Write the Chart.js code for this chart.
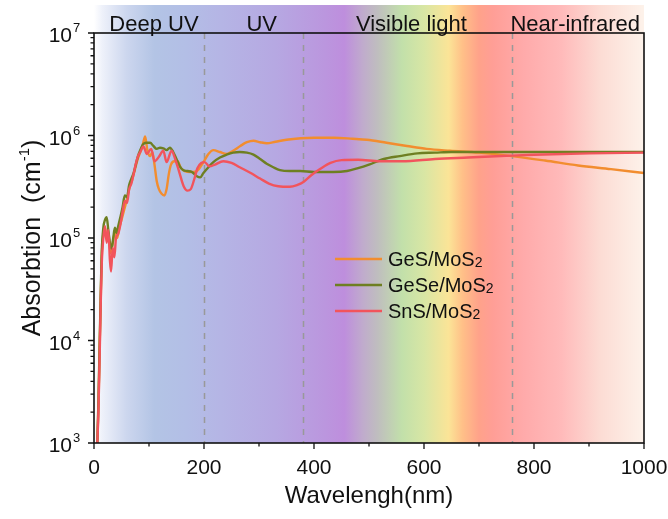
<!DOCTYPE html>
<html>
<head>
<meta charset="utf-8">
<title>Absorption spectra</title>
<script src="https://cdn.jsdelivr.net/npm/chart.js@4.4.1/dist/chart.umd.min.js"></script>
<style>
  html, body { margin: 0; padding: 0; background: #fff; }
  #wrap { width: 668px; height: 519px; }
</style>
</head>
<body>
<div id="wrap"><canvas id="absChart" width="668" height="519"></canvas></div>
<script>
// wavelength (nm) and absorption (cm-1)
const wlGeS = [6, 8, 10, 12, 14, 17, 20, 23, 26, 30, 34, 38, 42, 46, 50, 55, 60, 65, 70, 75, 80, 85, 89, 93, 97, 102, 106, 110, 114, 118, 123, 128, 132, 136, 140, 146, 152, 158, 165, 175, 187, 199, 208, 217, 229, 241, 253, 266, 278, 290, 302, 314, 330, 350, 376, 400, 436, 470, 496, 532, 569, 605, 647, 700, 760, 820, 880, 940, 1000];
const absGeS = [1.0e3, 2.2e3, 7.1e3, 2.2e4, 6.3e4, 1.12e5, 1.26e5, 1.0e5, 1.15e5, 7.1e4, 8.9e4, 1.12e5, 1.0e5, 1.26e5, 1.5e5, 1.9e5, 2.4e5, 3.16e5, 3.8e5, 4.8e5, 6.0e5, 7.1e5, 8.3e5, 9.8e5, 7.2e5, 6.3e5, 6.9e5, 5.2e5, 3.6e5, 3.0e5, 2.7e5, 2.6e5, 3.0e5, 4.2e5, 5.2e5, 5.6e5, 5.6e5, 4.8e5, 4.5e5, 4.4e5, 4.5e5, 5.5e5, 6.6e5, 7.2e5, 6.9e5, 6.6e5, 7.1e5, 7.9e5, 8.6e5, 8.9e5, 8.6e5, 8.4e5, 8.7e5, 9.1e5, 9.4e5, 9.5e5, 9.5e5, 9.3e5, 9.1e5, 8.5e5, 7.9e5, 7.4e5, 7.1e5, 6.8e5, 6.3e5, 5.7e5, 5.1e5, 4.7e5, 4.3e5];

const wlGeSe = [6, 8, 10, 12, 14, 17, 20, 23, 26, 29, 32, 35, 38, 41, 44, 48, 52, 56, 60, 64, 68, 72, 76, 80, 84, 90, 96, 102, 108, 114, 120, 126, 132, 138, 144, 150, 156, 162, 170, 178, 187, 193, 199, 208, 217, 229, 241, 253, 265, 278, 290, 302, 314, 326, 338, 356, 375, 400, 435, 460, 480, 500, 527, 556, 588, 620, 650, 750, 850, 1000];
const absGeSe = [1.0e3, 2.5e3, 7.9e3, 2.5e4, 7.1e4, 1.26e5, 1.5e5, 1.6e5, 1.2e5, 8.9e4, 7.9e4, 1.0e5, 1.26e5, 1.12e5, 1.3e5, 1.6e5, 2.0e5, 2.6e5, 2.5e5, 3.3e5, 3.8e5, 4.3e5, 5.2e5, 6.3e5, 7.2e5, 8.3e5, 8.5e5, 8.5e5, 7.9e5, 7.4e5, 7.6e5, 7.5e5, 7.2e5, 7.6e5, 6.9e5, 5.9e5, 5.0e5, 4.6e5, 4.5e5, 4.4e5, 4.0e5, 3.9e5, 4.3e5, 4.9e5, 5.5e5, 6.1e5, 6.5e5, 6.8e5, 6.9e5, 6.8e5, 6.5e5, 5.9e5, 5.3e5, 4.9e5, 4.6e5, 4.5e5, 4.5e5, 4.4e5, 4.4e5, 4.5e5, 4.8e5, 5.2e5, 5.9e5, 6.3e5, 6.7e5, 6.8e5, 6.9e5, 6.9e5, 6.9e5, 6.9e5];

const wlSnS = [6, 8, 10, 12, 14, 17, 20, 23, 26, 29, 31, 34, 37, 40, 44, 48, 52, 56, 60, 64, 68, 72, 76, 80, 84, 90, 96, 104, 110, 118, 126, 132, 141, 148, 155, 163, 170, 176, 182, 188, 195, 201, 210, 220, 235, 250, 265, 285, 302, 318, 335, 356, 370, 380, 395, 411, 430, 450, 480, 520, 560, 620, 680, 740, 800, 900, 1000];
const absSnS = [1.0e3, 2.0e3, 6.0e3, 2.0e4, 5.5e4, 1.0e5, 1.3e5, 9.0e4, 1.2e5, 6.0e4, 4.7e4, 8.0e4, 6.5e4, 1.0e5, 1.1e5, 1.35e5, 1.8e5, 2.3e5, 2.2e5, 3.0e5, 3.4e5, 4.2e5, 5.3e5, 6.3e5, 6.9e5, 7.8e5, 6.6e5, 7.4e5, 5.6e5, 6.2e5, 7.1e5, 5.5e5, 7.1e5, 5.8e5, 4.4e5, 3.2e5, 2.9e5, 3.0e5, 3.7e5, 4.8e5, 5.4e5, 5.5e5, 5.0e5, 5.2e5, 5.6e5, 5.4e5, 4.9e5, 4.3e5, 3.8e5, 3.4e5, 3.2e5, 3.16e5, 3.3e5, 3.5e5, 4.1e5, 4.7e5, 5.4e5, 5.75e5, 5.8e5, 5.6e5, 5.6e5, 5.9e5, 6.1e5, 6.3e5, 6.5e5, 6.7e5, 6.8e5];

const seriesNames = ["GeS/MoS", "GeSe/MoS", "SnS/MoS"];
const seriesColors = ["#F28D2F", "#6E7F22", "#F2545C"];

const xTicks = [0, 200, 400, 600, 800, 1000];
const xMinorTicks = [100, 300, 500, 700, 900];
const yDecades = [3, 4, 5, 6, 7];

const regionNames = ["Deep UV", "UV", "Visible light", "Near-infrared"];
const regionCenters = [109, 305, 577, 875];
const regionBounds = [200, 380, 760];

// spectrum background: wavelength stop -> colour
const specStops = [0, 15, 60, 110, 170, 230, 330, 420, 455, 490, 515, 560, 600, 645, 670, 700, 725, 780, 850, 920, 1000];
const specColors = ["#FFFFFF", "#EEF1FA", "#CCD6EE", "#B3C4E5", "#B3BEE6", "#B5B5E5", "#B6A8E2", "#BB96DE", "#BE8EDD", "#C0ACCC", "#BFBDBF", "#C2E0AA", "#D8E6A4", "#FBE497", "#FFC088", "#FFA28A", "#FF9E96", "#FFAAAA", "#FFBABA", "#FCDCD4", "#FDF2EA"];

function toPoints(xs, ys) {
  return xs.map((x, i) => ({ x: x, y: ys[i] }));
}

const FONT = "'Liberation Sans', Arial, sans-serif";

document.addEventListener("DOMContentLoaded", function () {
  const ctxEl = document.getElementById("absChart");

  const decorPlugin = {
    id: "decor",
    beforeDraw(chart) {
      const ctx = chart.ctx;
      const xs = chart.scales.x;
      const area = chart.chartArea;
      ctx.save();
      ctx.fillStyle = "#fff";
      ctx.fillRect(0, 0, chart.width, chart.height);

      const x0 = xs.getPixelForValue(0);
      const x1 = xs.getPixelForValue(1000);
      const grad = ctx.createLinearGradient(x0, 0, x1, 0);
      for (let i = 0; i < specStops.length; i++) {
        grad.addColorStop(specStops[i] / 1000, specColors[i]);
      }
      ctx.fillStyle = grad;
      ctx.fillRect(x0, 5, x1 - x0, area.bottom - 5);

      // region boundaries
      ctx.strokeStyle = "#999";
      ctx.lineWidth = 1.5;
      ctx.setLineDash([6, 6]);
      regionBounds.forEach((b) => {
        const px = Math.round(xs.getPixelForValue(b)) + 0.5;
        ctx.beginPath();
        ctx.moveTo(px, area.top);
        ctx.lineTo(px, area.bottom);
        ctx.stroke();
      });
      ctx.setLineDash([]);

      // region labels
      ctx.fillStyle = "#111";
      ctx.font = "22px " + FONT;
      ctx.textAlign = "center";
      ctx.textBaseline = "alphabetic";
      regionNames.forEach((name, i) => {
        ctx.fillText(name, xs.getPixelForValue(regionCenters[i]), 31);
      });
      ctx.restore();
    },
    afterDraw(chart) {
      const ctx = chart.ctx;
      const xs = chart.scales.x;
      const ys = chart.scales.y;
      const area = chart.chartArea;
      ctx.save();

      // frame
      ctx.strokeStyle = "#111";
      ctx.lineWidth = 1.6;
      ctx.strokeRect(area.left, area.top, area.right - area.left, area.bottom - area.top);

      // x ticks
      ctx.lineWidth = 1.3;
      ctx.beginPath();
      xTicks.forEach((v) => {
        const px = xs.getPixelForValue(v);
        ctx.moveTo(px, area.bottom);
        ctx.lineTo(px, area.bottom + 6);
      });
      xMinorTicks.forEach((v) => {
        const px = xs.getPixelForValue(v);
        ctx.moveTo(px, area.bottom);
        ctx.lineTo(px, area.bottom + 3.5);
      });
      // y ticks (decades + minors)
      yDecades.forEach((d, k) => {
        const py = ys.getPixelForValue(Math.pow(10, d));
        ctx.moveTo(area.left, py);
        ctx.lineTo(area.left - 6, py);
        if (k < yDecades.length - 1) {
          for (let m = 2; m <= 9; m++) {
            const pm = ys.getPixelForValue(m * Math.pow(10, d));
            ctx.moveTo(area.left, pm);
            ctx.lineTo(area.left - 3.5, pm);
          }
        }
      });
      ctx.stroke();

      // x tick labels
      ctx.fillStyle = "#111";
      ctx.font = "21px " + FONT;
      ctx.textAlign = "center";
      ctx.textBaseline = "alphabetic";
      xTicks.forEach((v) => {
        ctx.fillText(String(v), xs.getPixelForValue(v), area.bottom + 31);
      });

      // y tick labels 10^n
      yDecades.forEach((d) => {
        const py = ys.getPixelForValue(Math.pow(10, d));
        ctx.font = "21px " + FONT;
        ctx.textAlign = "right";
        ctx.fillText("10", 72, py + 9);
        ctx.font = "13px " + FONT;
        ctx.textAlign = "left";
        ctx.fillText(String(d), 73, py - 1);
      });

      // axis titles
      ctx.font = "24px " + FONT;
      ctx.textAlign = "center";
      ctx.fillText("Wavelengh(nm)", (area.left + area.right) / 2, 503);

      ctx.translate(40, 238);
      ctx.rotate(-Math.PI / 2);
      ctx.font = "25px " + FONT;
      const t1 = "Absorbtion  (cm";
      const w1 = ctx.measureText(t1).width;
      ctx.font = "15px " + FONT;
      const w2 = ctx.measureText("-1").width;
      ctx.font = "25px " + FONT;
      const w3 = ctx.measureText(")").width;
      let sx = -(w1 + w2 + w3) / 2;
      ctx.textAlign = "left";
      ctx.fillText(t1, sx, 0);
      sx += w1;
      ctx.font = "15px " + FONT;
      ctx.fillText("-1", sx, -11);
      sx += w2;
      ctx.font = "25px " + FONT;
      ctx.fillText(")", sx, 0);
      ctx.setTransform(1, 0, 0, 1, 0, 0);

      // legend
      const legY = [259, 285, 311];
      seriesNames.forEach((name, i) => {
        ctx.strokeStyle = seriesColors[i];
        ctx.lineWidth = 2.6;
        ctx.beginPath();
        ctx.moveTo(335, legY[i]);
        ctx.lineTo(382, legY[i]);
        ctx.stroke();
        ctx.fillStyle = "#111";
        ctx.font = "20px " + FONT;
        ctx.textAlign = "left";
        ctx.fillText(name, 388, legY[i] + 7);
        const w = ctx.measureText(name).width;
        ctx.font = "14px " + FONT;
        ctx.fillText("2", 388 + w, legY[i] + 8);
      });

      ctx.restore();
    },
  };

  new Chart(ctxEl, {
    type: "line",
    data: {
      datasets: [
        {
          label: "SnS/MoS2",
          data: toPoints(wlSnS, absSnS),
          borderColor: seriesColors[2],
          order: 1,
        },
        {
          label: "GeSe/MoS2",
          data: toPoints(wlGeSe, absGeSe),
          borderColor: seriesColors[1],
          order: 2,
        },
        {
          label: "GeS/MoS2",
          data: toPoints(wlGeS, absGeS),
          borderColor: seriesColors[0],
          order: 3,
        },
      ],
    },
    options: {
      responsive: false,
      animation: false,
      devicePixelRatio: 1,
      elements: {
        line: { borderWidth: 2.4, cubicInterpolationMode: "monotone" },
        point: { radius: 0 },
      },
      layout: { padding: { top: 33, right: 24, left: 0, bottom: 0 } },
      scales: {
        x: {
          type: "linear",
          min: 0,
          max: 1000,
          ticks: { display: false },
          grid: { display: false },
          border: { display: false },
          afterFit: (s) => { s.height = 76; },
        },
        y: {
          type: "logarithmic",
          min: 1000,
          max: 1e7,
          ticks: { display: false },
          grid: { display: false },
          border: { display: false },
          afterFit: (s) => { s.width = 94; },
        },
      },
      plugins: {
        legend: { display: false },
        tooltip: { enabled: false },
      },
    },
    plugins: [decorPlugin],
  });
});
</script>
</body>
</html>
